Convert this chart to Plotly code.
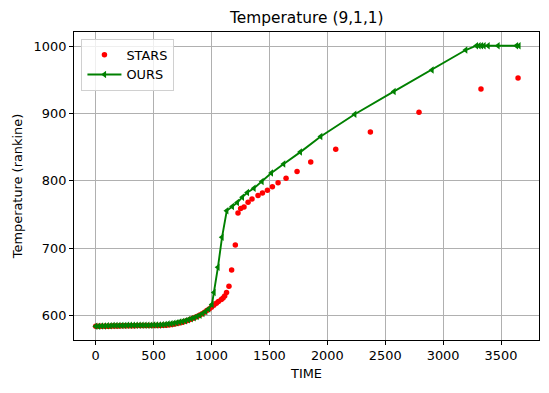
import plotly.graph_objects as go

# STARS (red dots)
stars_time = [0, 20, 40, 60, 80, 100, 120, 140, 160, 180, 200, 220, 240, 260, 280, 300,
              320, 340, 360, 380, 400, 420, 440, 460, 480, 500, 520, 540, 560, 580, 600,
              620, 640, 660, 680, 700, 720, 740, 760, 780, 800, 820, 840, 860, 880, 900,
              920, 940, 960, 980, 1000, 1020, 1042, 1060, 1085, 1100, 1114, 1130, 1151,
              1174, 1206, 1229, 1252, 1281, 1316, 1350, 1402, 1440, 1483, 1526, 1575,
              1644, 1739, 1857, 2073, 2372, 2792, 3327, 3647]
stars_temp = [583.5, 583.5, 583.5, 583.6, 583.6, 583.7, 583.8, 583.9, 584.0, 584.1, 584.2,
              584.3, 584.3, 584.4, 584.4, 584.5, 584.5, 584.5, 584.6, 584.6, 584.6, 584.6,
              584.7, 584.7, 584.7, 584.7, 584.8, 584.8, 584.9, 585.0, 585.2, 585.5, 585.9,
              586.4, 587.0, 587.7, 588.5, 589.4, 590.4, 591.5, 592.7, 594.0, 595.4, 596.9,
              598.5, 600.3, 602.3, 604.5, 607.0, 609.5, 612.0, 615.0, 618.0, 620.5, 623.5,
              625.5, 628.7, 634.0, 643.0, 667.5, 704.5, 752.0, 759.0, 761.0, 768.0, 773.0,
              778.0, 782.0, 786.0, 791.0, 797.0, 804.0, 814.0, 828.0, 847.0, 872.5, 902.0,
              936.6, 953.0]

# OURS (green line with left triangles)
ours_time = [0, 25, 50, 75, 100, 125, 150, 175, 200, 225, 250, 275, 300, 325, 350, 375,
             400, 425, 450, 475, 500, 525, 550, 575, 600, 625, 650, 675, 700, 725, 750,
             775, 800, 825, 850, 875, 900, 925, 950, 975, 1004, 1022, 1056, 1091, 1132,
             1180, 1223, 1267, 1310, 1367, 1436, 1517, 1623, 1767, 1943, 2237, 2576,
             2904, 3195, 3287, 3310, 3331, 3353, 3388, 3474, 3633, 3655]
ours_temp = [583.5, 583.8, 584.0, 584.2, 584.4, 584.5, 584.6, 584.7, 584.8, 584.9, 584.9,
             585.0, 585.0, 585.0, 585.1, 585.1, 585.1, 585.2, 585.2, 585.3, 585.4, 585.5,
             585.7, 586.0, 586.4, 586.9, 587.5, 588.2, 589.0, 589.9, 590.9, 592.0, 593.3,
             594.7, 596.3, 598.0, 600.0, 602.5, 605.5, 609.5, 616.0, 633.7, 671.5, 716.0,
             755.5, 761.7, 767.7, 775.7, 782.6, 789.0, 799.0, 811.5, 825.0, 842.7, 866.0,
             899.0, 933.0, 965.0, 994.6, 1001.0, 1001.0, 1001.0, 1001.0, 1001.0, 1001.0,
             1001.0, 1001.0]

x_ticks = [0, 500, 1000, 1500, 2000, 2500, 3000, 3500]
y_ticks = [600, 700, 800, 900, 1000]

font = "DejaVu Sans"
fs = 12.9

# page has an 8px body margin: shrink the figure and shift margins to compensate
W, H = 541, 385
L, R, T, B = 66.3, 9.7, 24.3, 53

fig = go.Figure()
fig.add_trace(go.Scatter(
    x=stars_time, y=stars_temp, mode="markers", name="STARS",
    marker=dict(color="red", size=5.5, line=dict(width=0)),
))
fig.add_trace(go.Scatter(
    x=ours_time, y=ours_temp, mode="lines+markers", name="OURS",
    line=dict(color="green", width=1.9),
    marker=dict(color="green", size=6.5, symbol="triangle-left", line=dict(width=0)),
))

axis_common = dict(
    showline=True, linecolor="black", linewidth=1, mirror=True,
    ticks="outside", ticklen=4, tickcolor="black", tickwidth=1,
    showgrid=True, gridcolor="#b0b0b0", gridwidth=0.8,
    zeroline=False, tickfont=dict(family=font, size=fs, color="black"),
    automargin=False,
)

fig.update_layout(
    width=W, height=H,
    margin=dict(l=L, r=R, t=T, b=B),
    paper_bgcolor="white", plot_bgcolor="white",
    title=dict(text="Temperature (9,1,1)", x=(L + (W - R)) / 2 / W, xanchor="center",
               y=1 - 9.5 / H, yanchor="middle",
               font=dict(family=font, size=15.4, color="black")),
    xaxis=dict(axis_common, range=[-187, 3828], tickvals=x_ticks,
               title=dict(text="TIME", font=dict(family=font, size=fs, color="black"), standoff=6)),
    yaxis=dict(axis_common, range=[563.2, 1021.4], tickvals=y_ticks,
               title=dict(text="Temperature (rankine)", font=dict(family=font, size=fs, color="black"), standoff=8)),
    legend=dict(x=0.016, y=0.978, xanchor="left", yanchor="top",
                bgcolor="rgba(255,255,255,0.8)", bordercolor="#d0d0d0", borderwidth=1,
                font=dict(family=font, size=fs, color="black"), itemwidth=34),
    showlegend=True,
)

fig.write_html("out.html")
